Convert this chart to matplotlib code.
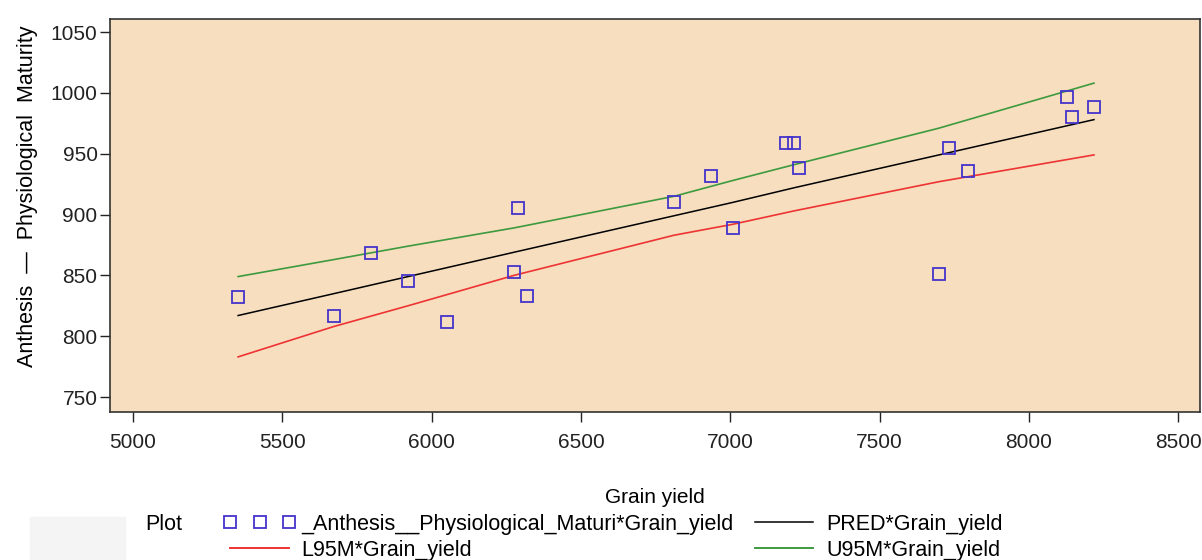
import matplotlib
matplotlib.use("Agg")
import matplotlib.pyplot as plt
from matplotlib.lines import Line2D
from matplotlib.patches import Rectangle

plt.rcParams['font.family'] = ['Liberation Sans', 'DejaVu Sans']

grain_yield = [5352, 5673, 5797, 5921, 6052, 6276, 6289, 6319, 6812, 6936,
               7009, 7187, 7214, 7230, 7699, 7733, 7796, 8128, 8145, 8218]
anthesis_pm = [832, 817, 868, 845, 812, 853, 905, 833, 910, 932,
               889, 959, 959, 938, 851, 955, 936, 997, 980, 988]

# fitted line and 95% mean confidence limits
fit_x = [5352, 5673, 5921, 6276, 6812, 7009, 7214, 7699, 8218]
pred = [817, 835, 849, 869, 899, 910, 922, 949, 978]
l95m = [783, 808, 825, 850, 883, 892, 903, 927, 949]
u95m = [849, 863, 874, 889, 915, 928, 941, 971, 1008]

x_ticks = [5000, 5500, 6000, 6500, 7000, 7500, 8000, 8500]
y_ticks = [750, 800, 850, 900, 950, 1000, 1050]

W, H = 1202, 560
fig = plt.figure(figsize=(W / 100, H / 100), dpi=100)
ax = fig.add_axes([110 / W, 1 - 412 / H, (1200 - 110) / W, (412 - 19) / H])
ax.set_facecolor('#F6DEBF')

pt_col = '#4433CC'
ax.plot(fit_x, pred, color='black', lw=1.1)
ax.plot(fit_x, l95m, color='#EE3333', lw=1.2)
ax.plot(fit_x, u95m, color='#3E9A3E', lw=1.2)
ax.plot(grain_yield, anthesis_pm, ls='none', marker='s', ms=8.5,
        mfc='none', mec=pt_col, mew=1.3)

ax.set_xlim(4923, 8573)
ax.set_ylim(737.7, 1060.7)
ax.set_xticks(x_ticks)
ax.set_yticks(y_ticks)
ax.tick_params(direction='out', length=7, width=1, labelsize=15, colors='#222222')
ax.tick_params(axis='x', pad=8)
ax.tick_params(axis='y', pad=2)
for s in ax.spines.values():
    s.set_linewidth(1.2)
    s.set_color('#333333')

ax.set_xlabel('Grain yield', fontsize=15, labelpad=26)
ax.set_ylabel('Anthesis  \u2014  Physiological  Maturity', fontsize=15.5)
ax.yaxis.set_label_coords(-0.066, 0.55)

# legend block
fig.patches.append(Rectangle((30 / W, 0), 95 / W, 43 / H, transform=fig.transFigure,
                             color='#F4F4F4', zorder=0))
fig.text(145 / W, 1 - 524 / H, 'Plot', fontsize=15.5, va='center')

h_pts = Line2D([], [], ls='none', marker='s', ms=8.5, mfc='none', mec=pt_col, mew=1.3)
h_l95 = Line2D([], [], color='#EE3333', lw=1.4)
h_pred = Line2D([], [], color='black', lw=1.1)
h_u95 = Line2D([], [], color='#3E9A3E', lw=1.4)
fig.legend([h_pts, h_l95, h_pred, h_u95],
           ['_Anthesis__Physiological_Maturi*Grain_yield', 'L95M*Grain_yield',
            'PRED*Grain_yield', 'U95M*Grain_yield'],
           ncol=2, loc='upper left', bbox_to_anchor=(224 / W, 1 - 514 / H),
           frameon=False, fontsize=15.5, numpoints=3, handlelength=3.3,
           handletextpad=0.3, columnspacing=0.7, labelspacing=0.23,
           borderaxespad=0, borderpad=0)

fig.savefig('out.png', dpi=100)
